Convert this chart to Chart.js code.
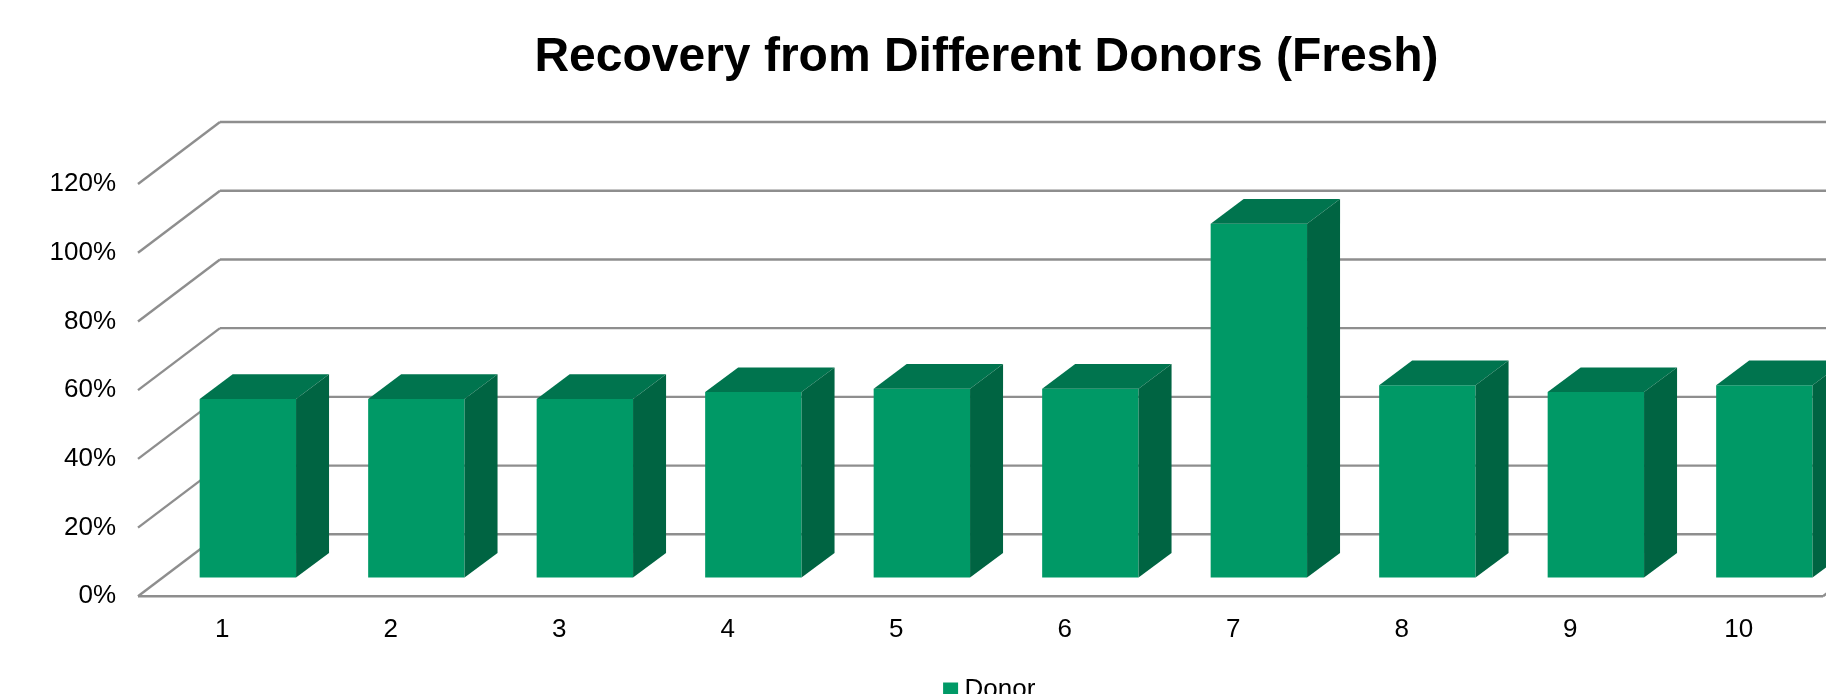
<!DOCTYPE html>
<html>
<head>
<meta charset="utf-8">
<title>Recovery from Different Donors (Fresh)</title>
<script src="https://cdn.jsdelivr.net/npm/chart.js@4/dist/chart.umd.js"></script>
<style>
  html, body { margin: 0; padding: 0; background: #fff; overflow: hidden; }
  #wrap { width: 1826px; height: 694px; overflow: hidden; position: relative; }
  #wrap canvas { position: absolute; left: 0; top: 0; }
</style>
</head>
<body>
<div id="wrap"><canvas id="chart" width="1972" height="713" style="width:1972px;height:713px"></canvas></div>
<script>
const categories = ["1", "2", "3", "4", "5", "6", "7", "8", "9", "10"];
const donorValues = [52, 52, 52, 54, 55, 55, 103, 56, 54, 56];
const valueTicks = [0, 20, 40, 60, 80, 100, 120];

const FONT = "'Liberation Sans', Arial, sans-serif";
const GRID = "#8e8e8e";

// fake 3d: floor depth, bar front plane offset, bar depth (px)
const floorDepth = { x: 82, y: -62 };
const barShift = { x: 25.6, y: -18.7 };
const barDepth = { x: 33, y: -24.6 };

function line(ctx, x1, y1, x2, y2) {
  ctx.beginPath();
  ctx.moveTo(x1, y1);
  ctx.lineTo(x2, y2);
  ctx.stroke();
}

function poly(ctx, pts, color) {
  ctx.fillStyle = color;
  ctx.beginPath();
  pts.forEach((p, i) => (i ? ctx.lineTo(p[0], p[1]) : ctx.moveTo(p[0], p[1])));
  ctx.closePath();
  ctx.fill();
}

const walls = {
  id: "walls",
  afterLayout(chart) {
    // original was cropped on the right, so title and legend sit right of the middle
    chart.titleBlock.left += 75;
    chart.titleBlock.right += 75;
    chart.legend.left += 81;
    chart.legend.right += 81;
  },
  beforeDatasetsDraw(chart) {
    const { ctx, scales, chartArea } = chart;
    ctx.save();
    ctx.strokeStyle = GRID;
    ctx.lineWidth = 2.4;
    valueTicks.forEach((v) => {
      const y = scales.y.getPixelForValue(v);
      line(ctx, chartArea.left, y, chartArea.left + floorDepth.x, y + floorDepth.y);
      line(ctx, chartArea.left + floorDepth.x, y + floorDepth.y, chartArea.right + floorDepth.x, y + floorDepth.y);
    });
    line(ctx, chartArea.left, chartArea.bottom, chartArea.right, chartArea.bottom);
    line(ctx, chartArea.right, chartArea.bottom, chartArea.right + floorDepth.x, chartArea.bottom + floorDepth.y);
    ctx.restore();
  },
  beforeDatasetDraw(chart) {
    chart.ctx.save();
    chart.ctx.translate(barShift.x, barShift.y);
  },
  afterDatasetDraw(chart, args) {
    const ctx = chart.ctx;
    args.meta.data.forEach((bar) => {
      const l = bar.x - bar.width / 2;
      const r = bar.x + bar.width / 2;
      const t = bar.y;
      const b = bar.base;
      poly(ctx, [[l, t], [r, t], [r + barDepth.x, t + barDepth.y], [l + barDepth.x, t + barDepth.y]], "#00744e");
      poly(ctx, [[r, t], [r + barDepth.x, t + barDepth.y], [r + barDepth.x, b + barDepth.y], [r, b]], "#006442");
    });
    ctx.restore();
  },
};

new Chart(document.getElementById("chart"), {
  type: "bar",
  data: {
    labels: categories,
    datasets: [
      {
        label: "Donor",
        data: donorValues,
        backgroundColor: "#009966",
        barPercentage: 0.572,
        categoryPercentage: 1,
        clip: false,
      },
    ],
  },
  options: {
    responsive: false,
    animation: false,
    layout: { padding: { top: 28.5, right: 149, bottom: 0, left: 0 } },
    scales: {
      x: {
        grid: { display: false, drawTicks: false },
        border: { display: false },
        ticks: { color: "#000", font: { family: FONT, size: 26 }, padding: 18, maxRotation: 0 },
        afterFit: (scale) => { scale.height = 70.7; },
      },
      y: {
        min: 0,
        max: 120,
        grid: { display: false, drawTicks: false },
        border: { display: false },
        ticks: {
          stepSize: 20,
          color: "#000",
          font: { family: FONT, size: 26 },
          padding: 22,
          callback: (v) => v + "%",
        },
        afterFit: (scale) => { scale.width = 138; },
      },
    },
    plugins: {
      title: {
        display: true,
        text: "Recovery from Different Donors (Fresh)",
        color: "#000",
        font: { family: FONT, size: 48, weight: "bold" },
        padding: { top: 0, bottom: 97.9 },
      },
      legend: {
        position: "bottom",
        labels: {
          color: "#000",
          font: { family: FONT, size: 26 },
          usePointStyle: true,
          pointStyle: "rect",
          boxWidth: 2,
          boxHeight: 15,
          padding: 10,
        },
      },
      tooltip: { enabled: false },
    },
  },
  plugins: [walls],
});
</script>
</body>
</html>
